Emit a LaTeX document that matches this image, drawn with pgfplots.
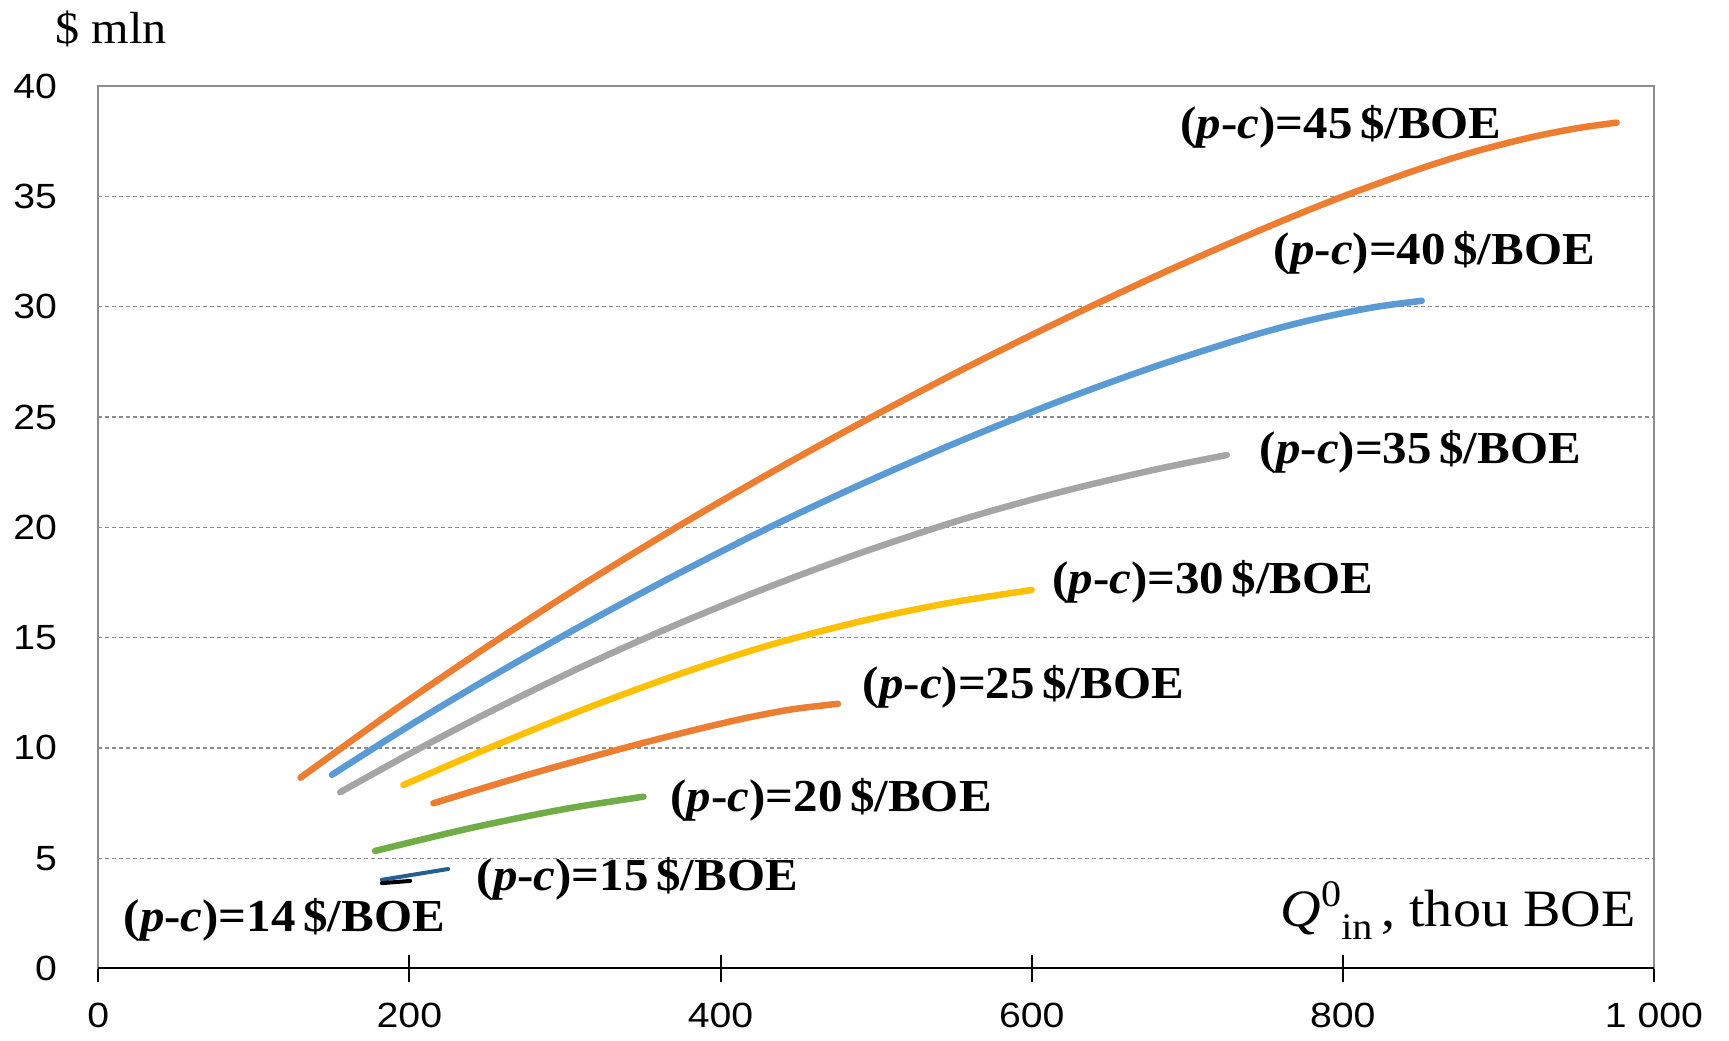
\documentclass[border=0pt]{standalone}
\usepackage{fontspec}
\usepackage{pgfplots}
\pgfplotsset{compat=1.18}
\setmainfont{Liberation Serif}[FakeStretch=1.07]
\newfontfamily\tickfont{Liberation Sans}[FakeStretch=1.12]
\definecolor{cor}{HTML}{ED7D31}
\definecolor{cbl}{HTML}{5B9BD5}
\definecolor{cgr}{HTML}{A5A5A5}
\definecolor{cye}{HTML}{FFC000}
\definecolor{cgn}{HTML}{70AD47}
\definecolor{cdb}{HTML}{255E91}
\definecolor{boxc}{HTML}{8C8C8C}
\newcommand{\lab}[1]{\fontsize{18.3}{20}\selectfont\bfseries(\textit{p}-\textit{c})=#1\,\$/BOE}
\begin{document}
\begin{tikzpicture}
\begin{axis}[
  scale only axis, width=622.3pt, height=352.9pt,
  xmin=0, xmax=1000, ymin=0, ymax=40,
  xtick={0,200,400,600,800,1000}, xticklabels={0,200,400,600,800,1 000},
  ytick={0,5,10,15,20,25,30,35,40}, yticklabels={0,5,10,15,20,25,30,35,40},
  xtick pos=bottom, ytick pos=left,
  ymajorgrids,
  grid style={dash pattern=on 1.6pt off 1.2pt, black!45, line width=0.5pt},
  axis line style={draw=boxc, line width=0.8pt},
  tick align=center, major tick length=10.5pt,
  xtick style={black, line width=0.8pt}, ytick style={draw=none},
  xticklabel style={font=\tickfont\fontsize{14}{14}\selectfont, yshift=-5pt},
  yticklabel style={font=\tickfont\fontsize{14}{14}\selectfont, xshift=-7.7pt},
  clip=false,
  every axis plot/.append style={line width=2.6pt, line cap=round, smooth, no marks},
]
\addplot[cor] coordinates {(130,8.65)(190,11.70)(250,14.59)(310,17.34)(370,19.93)(430,22.39)(490,24.73)(555,27.14)(620,29.41)(685,31.56)(750,33.57)(800,35.0)(850,36.27)(885,37.04)(920,37.67)(950,38.09)(976,38.35)};
\addplot[cbl] coordinates {(150.2,8.78)(200,11.01)(250,13.12)(310,15.52)(370,17.80)(430,19.95)(490,21.94)(555,23.94)(620,25.78)(680,27.31)(740,28.66)(780,29.41)(820,29.98)(850.7,30.27)};
\addplot[cgr] coordinates {(155.5,7.99)(200,9.73)(250,11.58)(310,13.65)(370,15.54)(430,17.27)(490,18.84)(555,20.35)(620,21.63)(680,22.63)(725.4,23.28)};
\addplot[cye] coordinates {(196.2,8.32)(250,9.96)(310,11.69)(370,13.26)(430,14.63)(490,15.74)(545,16.55)(600,17.16)};
\addplot[cor] coordinates {(215.4,7.49)(275,8.76)(335.5,9.95)(375,10.67)(412.6,11.3)(445,11.74)(475.5,12.0)};
\addplot[cgn] coordinates {(178,5.33)(239,6.36)(299,7.22)(350.5,7.79)};
\addplot[cdb, line width=1.6pt] coordinates {(182.3,4.02)(224.9,4.51)};
\addplot[black, line width=1.6pt] coordinates {(182.3,3.87)(200.5,3.97)};
\draw[black, line width=0.8pt] (rel axis cs:0,0) -- (rel axis cs:1,0);
\node[anchor=base west, inner sep=0] at (axis cs:695.4,37.64) {\lab{45}};
\node[anchor=base west, inner sep=0] at (axis cs:755.4,31.94) {\lab{40}};
\node[anchor=base west, inner sep=0] at (axis cs:746.4,22.9) {\lab{35}};
\node[anchor=base west, inner sep=0] at (axis cs:612.9,17.01) {\lab{30}};
\node[anchor=base west, inner sep=0] at (axis cs:491.2,12.22) {\lab{25}};
\node[anchor=base west, inner sep=0] at (axis cs:367.6,7.12) {\lab{20}};
\node[anchor=base west, inner sep=0] at (axis cs:243,3.52) {\lab{15}};
\node[anchor=base west, inner sep=0] at (axis cs:16.1,1.67) {\lab{14}};
\node[anchor=base east, inner sep=0] at (axis cs:988.5,1.9) {\fontsize{21}{23}\selectfont\textit{Q}\raisebox{8pt}{\fontsize{15}{15}\selectfont 0}\raisebox{-5pt}{\fontsize{15}{15}\selectfont in}\,, thou BOE};
\node[anchor=base west, inner sep=0] at (axis cs:-27.8,41.95) {\fontsize{18}{20}\selectfont\$ mln};
\end{axis}
\pgfresetboundingbox
\path[use as bounding box] (-39.3pt,-28.96pt) rectangle (652.3pt,387.4pt);
\end{tikzpicture}
\end{document}
